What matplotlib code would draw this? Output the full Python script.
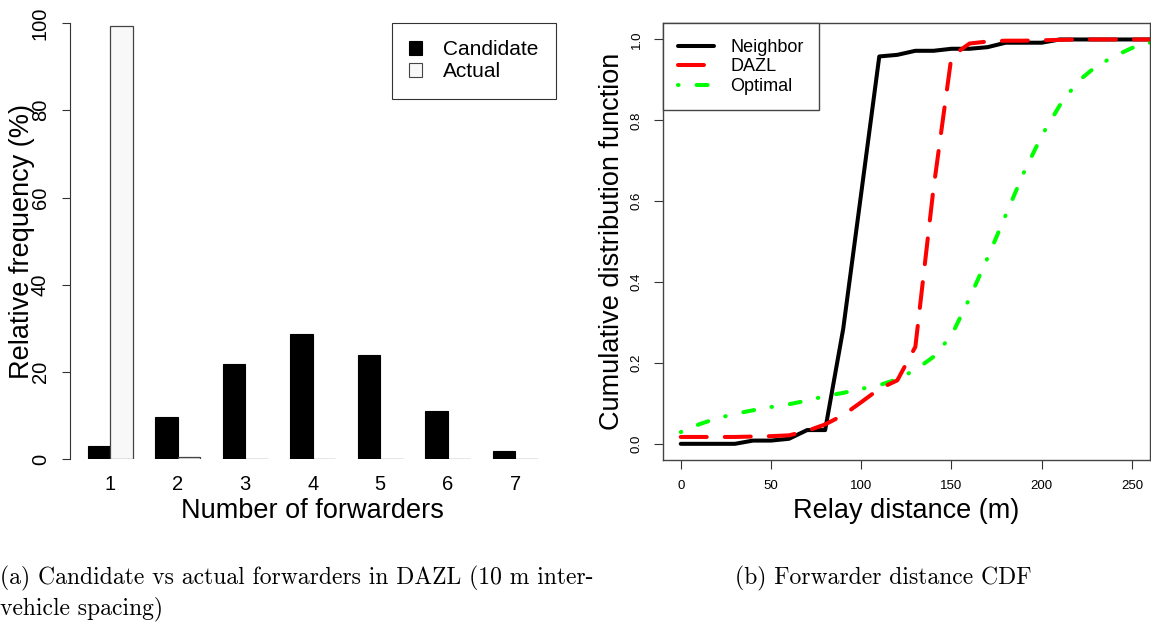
import numpy as np
import matplotlib
matplotlib.use("Agg")
import matplotlib.pyplot as plt
from matplotlib.patches import Patch

plt.rcParams['font.family'] = ['Liberation Sans', 'DejaVu Sans']
plt.rcParams['lines.scale_dashes'] = False

# ---- (a) number of forwarders per packet ----
forwarder_counts = ["1", "2", "3", "4", "5", "6", "7"]
candidate_pct = [3.0, 9.7, 21.8, 28.8, 24.0, 11.1, 1.8]
actual_pct = [99.3, 0.5, 0.15, 0.0, 0.0, 0.0, 0.0]
freq_ticks = [0, 20, 40, 60, 80, 100]

# ---- (b) CDF of relay distance ----
relay_distance = [0, 10, 20, 30, 40, 50, 60, 70, 80, 90, 100, 110, 120, 130,
                  140, 150, 160, 170, 180, 190, 200, 210, 220, 230, 240, 250, 260]
cdf_neighbor = [0.0, 0.0, 0.0, 0.0, 0.008, 0.008, 0.0125, 0.034, 0.034, 0.284,
                0.62, 0.958, 0.962, 0.972, 0.972, 0.977, 0.977, 0.981, 0.992,
                0.992, 0.992, 1.0, 1.0, 1.0, 1.0, 1.0, 1.0]
cdf_dazl = [0.017, 0.017, 0.017, 0.017, 0.018, 0.019, 0.021, 0.032, 0.048,
            0.071, 0.103, 0.136, 0.157, 0.24, 0.63, 0.958, 0.99, 0.995, 0.997,
            0.997, 0.998, 0.999, 1.0, 1.0, 1.0, 1.0, 1.0]
cdf_optimal = [0.029, 0.048, 0.063, 0.074, 0.083, 0.091, 0.098, 0.107, 0.118,
               0.126, 0.136, 0.145, 0.16, 0.183, 0.215, 0.268, 0.36, 0.46,
               0.565, 0.67, 0.762, 0.837, 0.896, 0.933, 0.958, 0.979, 0.992]
dist_ticks = [0, 50, 100, 150, 200, 250]
cdf_ticks = [0.0, 0.2, 0.4, 0.6, 0.8, 1.0]

W, H = 1151, 627
fig = plt.figure(figsize=(W / 100, H / 100), dpi=100)

def px_axes(left, top, right, bottom):
    return fig.add_axes([left / W, 1 - bottom / H, (right - left) / W, (bottom - top) / H])

# ================= panel (a): grouped bars =================
ax1 = px_axes(69.7, 23.0, 555.7, 459.3)
n = len(forwarder_counts)
group_centers = np.arange(n) * 3 + 2
ax1.bar(group_centers - 0.5, candidate_pct, width=1.0, color='black',
        edgecolor='black', linewidth=0.8, label='Candidate')
ax1.bar(group_centers + 0.5, actual_pct, width=1.0, color='#f8f8f8',
        edgecolor='#444444', linewidth=0.9, label='Actual')
ax1.set_xlim(0.2, 21.8)
ax1.set_ylim(0, 100)
ax1.set_xticks(group_centers)
ax1.set_xticklabels(forwarder_counts, fontsize=14.5)
ax1.tick_params(axis='x', length=0, pad=11.5)
ax1.set_yticks(freq_ticks)
ax1.set_yticklabels([str(t) for t in freq_ticks], fontsize=14.5,
                    rotation=90, va='center')
ax1.tick_params(axis='y', length=5.8, width=0.8, pad=8.4, color='#333333')
for side in ('top', 'right', 'bottom'):
    ax1.spines[side].set_visible(False)
ax1.spines['left'].set_color('#333333')
ax1.spines['left'].set_linewidth(0.8)
ax1.set_xlabel('Number of forwarders', fontsize=19.5)
ax1.set_ylabel('Relative frequency (%)', fontsize=19.5)
ax1.xaxis.set_label_coords(0.5, (459.3 - 511) / 436.3)
ax1.xaxis.label.set_verticalalignment('center')
ax1.yaxis.set_label_coords((22 - 69.7) / 486.0, 0.5)
ax1.yaxis.label.set_verticalalignment('center')

leg1 = ax1.legend(handles=[Patch(facecolor='black', edgecolor='black', lw=0.8),
                           Patch(facecolor='#f8f8f8', edgecolor='#444444', lw=0.8)],
                  labels=['Candidate', 'Actual'],
                  loc='upper right', bbox_to_anchor=(1.0, 1.0), borderaxespad=0.0,
                  fontsize=15, handlelength=0.63, handleheight=0.63,
                  handletextpad=1.0, borderpad=0.83, labelspacing=0.14,
                  fancybox=False, framealpha=1.0, edgecolor='#333333')
leg1.get_frame().set_linewidth(0.8)

# ================= panel (b): CDF curves =================
ax2 = px_axes(662.7, 23.3, 1150.0, 460.0)
lw = 2.9
ax2.plot(relay_distance, cdf_neighbor, color='black', lw=lw,
         solid_capstyle='round', solid_joinstyle='round', label='Neighbor')
ax2.plot(relay_distance, cdf_optimal, color='#00ff00', lw=lw,
         linestyle=(0, (0.4, 13.0, 7.9, 12.7)), dash_capstyle='round',
         label='Optimal')
ax2.plot(relay_distance, cdf_dazl, color='#ff0000', lw=lw,
         linestyle=(0, (18.7, 13.0)), dash_capstyle='round', label='DAZL')
ax2.set_xlim(-10, 260)
ax2.set_ylim(-0.04, 1.04)
ax2.set_xticks(dist_ticks)
ax2.set_xticklabels([str(t) for t in dist_ticks], fontsize=9.5)
ax2.set_yticks(cdf_ticks)
ax2.set_yticklabels([f'{t:.1f}' for t in cdf_ticks], fontsize=9.5,
                    rotation=90, va='center')
ax2.tick_params(axis='both', length=6.2, width=0.8, color='#333333')
ax2.tick_params(axis='x', pad=8.5)
ax2.tick_params(axis='y', pad=8.2)
for sp in ax2.spines.values():
    sp.set_color('#444444')
    sp.set_linewidth(1.0)
ax2.set_xlabel('Relay distance (m)', fontsize=19.5)
ax2.set_ylabel('Cumulative distribution function', fontsize=19.5)
ax2.xaxis.set_label_coords(0.5, (460 - 511) / 436.7)
ax2.xaxis.label.set_verticalalignment('center')
ax2.yaxis.set_label_coords((612 - 662.7) / 487.3, 0.5)
ax2.yaxis.label.set_verticalalignment('center')

h = {l.get_label(): l for l in ax2.get_lines()}
leg2 = ax2.legend(handles=[h['Neighbor'], h['DAZL'], h['Optimal']],
                  labels=['Neighbor', 'DAZL', 'Optimal'],
                  loc='upper left', bbox_to_anchor=(0.0, 1.0), borderaxespad=0.0,
                  fontsize=13, handlelength=2.0, handletextpad=0.9,
                  borderpad=0.86, labelspacing=0.14,
                  fancybox=False, framealpha=1.0, edgecolor='#444444')
leg2.get_frame().set_linewidth(1.0)

# ================= sub-figure captions =================
cap = dict(family='cmr10', fontsize=17, ha='left', va='center')
fig.text(0.0, 1 - 578 / H, '(a) Candidate vs actual forwarders in DAZL (10 m inter-', **cap)
fig.text(0.0, 1 - 609 / H, 'vehicle spacing)', **cap)
fig.text(735 / W, 1 - 578 / H, '(b) Forwarder distance CDF', **cap)

fig.savefig('out.png', dpi=100)
